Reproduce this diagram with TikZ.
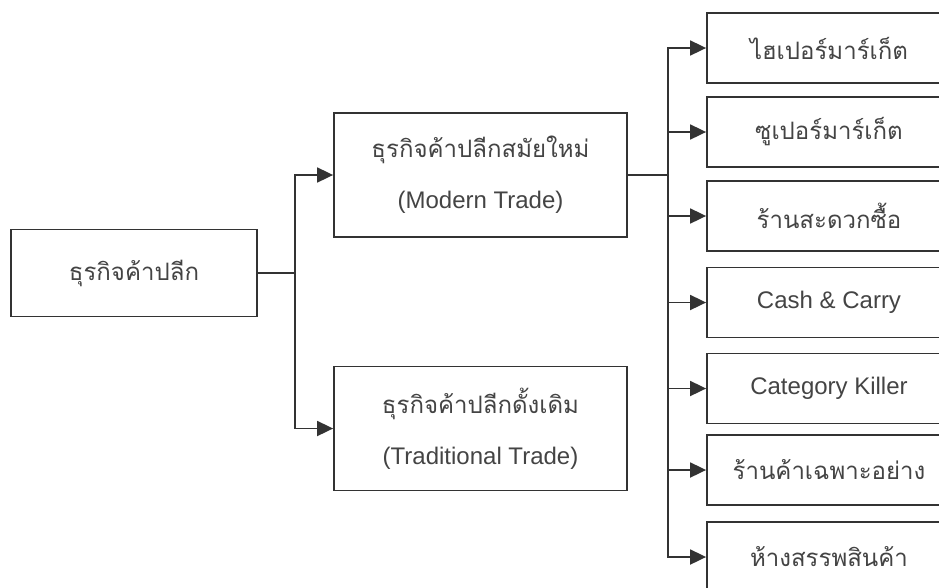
\documentclass[tikz,border=0pt]{standalone}
\usepackage{fontspec}
\setmainfont{Liberation Sans}
\newfontfamily\thaifont[Script=Thai]{Loma}
\usetikzlibrary{arrows.meta}
\definecolor{ln}{HTML}{333333}
\definecolor{tx}{HTML}{444444}
\tikzset{
  box/.style={draw=ln, line width=1.8pt, rectangle, inner sep=0pt, text=tx, align=center},
  rbox/.style={box, minimum width=244pt, minimum height=70pt},
  mbox/.style={box, minimum width=293pt, minimum height=124pt},
  conn/.style={draw=ln, line width=1.8pt},
  arr/.style={conn, -{Triangle[length=16pt,width=15pt]}},
  th/.style={font=\thaifont\fontsize{24}{28}\selectfont},
  la/.style={font=\fontsize{24}{28}\selectfont},
}
\begin{document}
\begin{tikzpicture}[x=1pt,y=-1pt]
\clip (0,0) rectangle (939,587);
\fill[white] (0,0) rectangle (939,587);
% root
\node[box, minimum width=246pt, minimum height=87pt, th] (r) at (134,273) {ธุรกิจค้าปลีก};
% second level
\node[mbox] (m) at (480.5,175) {{\thaifont\fontsize{24}{28}\selectfont ธุรกิจค้าปลีกสมัยใหม่}\\[26pt]{\fontsize{24}{28}\selectfont (Modern Trade)}};
\node[mbox] (t) at (480.5,428.5) {{\thaifont\fontsize{24}{28}\selectfont ธุรกิจค้าปลีกดั้งเดิม}\\[26pt]{\fontsize{24}{28}\selectfont (Traditional Trade)}};
% third level
\node[rbox, th] (b1) at (829,48) {ไฮเปอร์มาร์เก็ต};
\node[rbox, th] (b2) at (829,132) {ซูเปอร์มาร์เก็ต};
\node[rbox, th] (b3) at (829,216) {ร้านสะดวกซื้อ};
\node[rbox, la] (b4) at (829,302.5) {Cash \& Carry};
\node[rbox, la] (b5) at (829,388.5) {Category Killer};
\node[rbox, th] (b6) at (829,470) {ร้านค้าเฉพาะอย่าง};
\node[rbox, th] (b7) at (829,557) {ห้างสรรพสินค้า};
% connectors
\coordinate (j1) at (295,273);
\draw[conn] (r.east) -- (j1);
\draw[arr] (j1) |- (m.west);
\draw[arr] (j1) |- (t.west);
\coordinate (j2) at (668,175);
\draw[conn] (m.east) -- (j2);
\foreach \b in {b1,b2,b3,b4,b5,b6,b7}{
  \draw[arr] (j2) |- (\b.west);
}
\end{tikzpicture}
\end{document}
